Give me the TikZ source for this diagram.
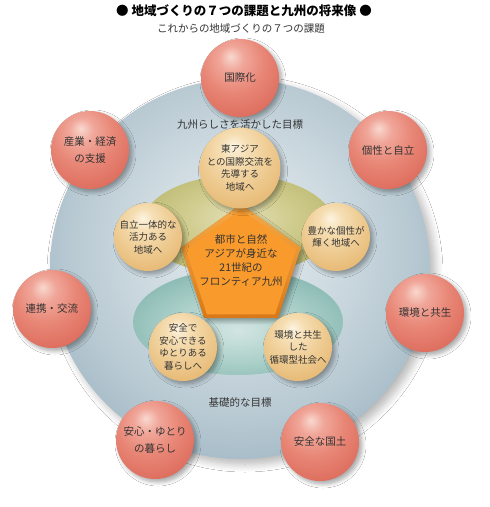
\documentclass[tikz,border=0pt]{standalone}
\usepackage{fontspec}
\newfontfamily\cjk{Noto Sans CJK JP}
\usetikzlibrary{shapes.geometric,shadows.blur}
\definecolor{txt}{HTML}{333333}
\definecolor{rhi}{HTML}{F9D8CF}
\definecolor{rm1}{HTML}{F0A699}
\definecolor{rm2}{HTML}{E88676}
\definecolor{rm3}{HTML}{DD6C5C}
\definecolor{rlo}{HTML}{CF5040}
\definecolor{thi}{HTML}{FDF4E2}
\definecolor{tm1}{HTML}{F6DFB5}
\definecolor{tm2}{HTML}{EFCD95}
\definecolor{tm3}{HTML}{E6B873}
\definecolor{tlo}{HTML}{D49A50}
\definecolor{bhi}{HTML}{E4EBEE}
\definecolor{bm1}{HTML}{D0DCE2}
\definecolor{bm2}{HTML}{B9CAD3}
\definecolor{bm3}{HTML}{A1B8C5}
\definecolor{bm4}{HTML}{86A2B3}
\definecolor{bm5}{HTML}{6D8EA1}
\definecolor{blo}{HTML}{5A7E93}
\definecolor{ohi}{HTML}{E2DFB6}
\definecolor{om1}{HTML}{CFCB8C}
\definecolor{om2}{HTML}{BCB972}
\definecolor{om3}{HTML}{AAA85E}
\definecolor{olo}{HTML}{9A9950}
\definecolor{ghi}{HTML}{D2E5E1}
\definecolor{gm1}{HTML}{AED1CB}
\definecolor{gm2}{HTML}{8BBBB4}
\definecolor{gm3}{HTML}{71A9A2}
\definecolor{glo}{HTML}{5F9A92}
\definecolor{pface}{HTML}{F99A2C}
\definecolor{ptop}{HTML}{F7AA48}
\definecolor{pbot}{HTML}{D87818}
\pgfdeclareradialshading{redsh}{\pgfpoint{-6bp}{14bp}}{color(0bp)=(rhi); color(8bp)=(rm1); color(20bp)=(rm2); color(35bp)=(rm3); color(52bp)=(rlo); color(80bp)=(rlo)}
\pgfdeclareradialshading{tansh}{\pgfpoint{-4bp}{14bp}}{color(0bp)=(thi); color(8bp)=(tm1); color(20bp)=(tm2); color(35bp)=(tm3); color(52bp)=(tlo); color(80bp)=(tlo)}
\pgfdeclareradialshading{bigsh}{\pgfpoint{0bp}{4bp}}{color(0bp)=(bhi); color(12bp)=(bm1); color(22bp)=(bm2); color(30bp)=(bm3); color(38bp)=(bm4); color(45bp)=(bm5); color(50bp)=(blo); color(75bp)=(blo)}
\pgfdeclareradialshading{olsh}{\pgfpoint{0bp}{4bp}}{color(0bp)=(ohi); color(15bp)=(om1); color(28bp)=(om2); color(40bp)=(om3); color(50bp)=(olo); color(75bp)=(olo)}
\pgfdeclareradialshading{tlsh}{\pgfpoint{0bp}{-4bp}}{color(0bp)=(ghi); color(15bp)=(gm1); color(28bp)=(gm2); color(40bp)=(gm3); color(50bp)=(glo); color(75bp)=(glo)}
\tikzset{
  shd/.style={blur shadow={shadow xshift=3pt, shadow yshift=-3pt, shadow blur radius=4pt, shadow blur steps=8, shadow opacity=35}},
  redball/.style={circle, inner sep=0pt, minimum size=78pt, shading=redsh, shd, text=txt, align=center, font=\cjk\fontsize{10.5}{17.5}\selectfont},
  tanball/.style={circle, inner sep=0pt, minimum size=68pt, shading=tansh, shd, text=txt, align=center, font=\cjk\fontsize{9.5}{12.5}\selectfont},
  lbl/.style={text=txt, font=\cjk\fontsize{10.5}{13}\selectfont, inner sep=0pt},
}
\begin{document}
\begin{tikzpicture}[x=1pt,y=-1pt]
\useasboundingbox (0,0) rectangle (490,507);
\fill[white] (0,0) rectangle (490,507);
% title
\node[inner sep=0pt, text=black, font=\cjk\bfseries\fontsize{12.5}{14}\selectfont] (title) at (244,11) {● 地域づくりの７つの課題と九州の将来像 ●};
\node[lbl] (sub) at (241,29) {これからの地域づくりの７つの課題};
% big circle
\node[circle, inner sep=0pt, minimum size=380pt, shading=bigsh, blur shadow={shadow xshift=5pt, shadow yshift=-5pt, shadow blur radius=8pt, shadow blur steps=10, shadow opacity=30}] (big) at (240,269) {};
% inner ellipses
\node[ellipse, inner sep=0pt, minimum width=192pt, minimum height=100pt, shading=olsh] (olive) at (238,225) {};
\node[ellipse, inner sep=0pt, minimum width=210pt, minimum height=106pt, shading=tlsh] (teal) at (238,322) {};
% labels in ring
\node[lbl] (lab1) at (240,125) {九州らしさを活かした目標};
\node[lbl] (lab2) at (240,402) {基礎的な目標};
% red balls
\node[redball] (r1) at (240,78) {国際化};
\node[redball] (r2) at (388,150) {個性と自立};
\node[redball] (r3) at (425,313) {環境と共生};
\node[redball] (r4) at (320,442) {安全な国土};
\node[redball] (r5) at (155,440) {安心・ゆとり\\の暮らし};
\node[redball] (r6) at (52,309) {連携・交流};
\node[redball] (r7) at (90,150) {産業・経済\\の支援};
% pentagon
\node[regular polygon, regular polygon sides=5, inner sep=0pt, minimum size=126pt, top color=ptop, bottom color=pbot, shd] (pent) at (241,267) {};
\node[regular polygon, regular polygon sides=5, inner sep=0pt, minimum size=116pt, fill=pface] (pentin) at (241,267.5) {};
\node[text=txt, align=center, inner sep=0pt, font=\cjk\fontsize{10.5}{14}\selectfont] (ptext) at (241,260) {都市と自然\\アジアが身近な\\21世紀の\\フロンティア九州};
% tan balls
\node[tanball] (t1) at (240,168) {東アジア\\との国際交流を\\先導する\\地域へ};
\node[tanball] (t2) at (148,237) {自立一体的な\\活力ある\\地域へ};
\node[tanball] (t3) at (336,237) {豊かな個性が\\輝く地域へ};
\node[tanball] (t4) at (183,347) {安全で\\安心できる\\ゆとりある\\暮らしへ};
\node[tanball] (t5) at (298,347) {環境と共生\\した\\循環型社会へ};
\end{tikzpicture}
\end{document}
